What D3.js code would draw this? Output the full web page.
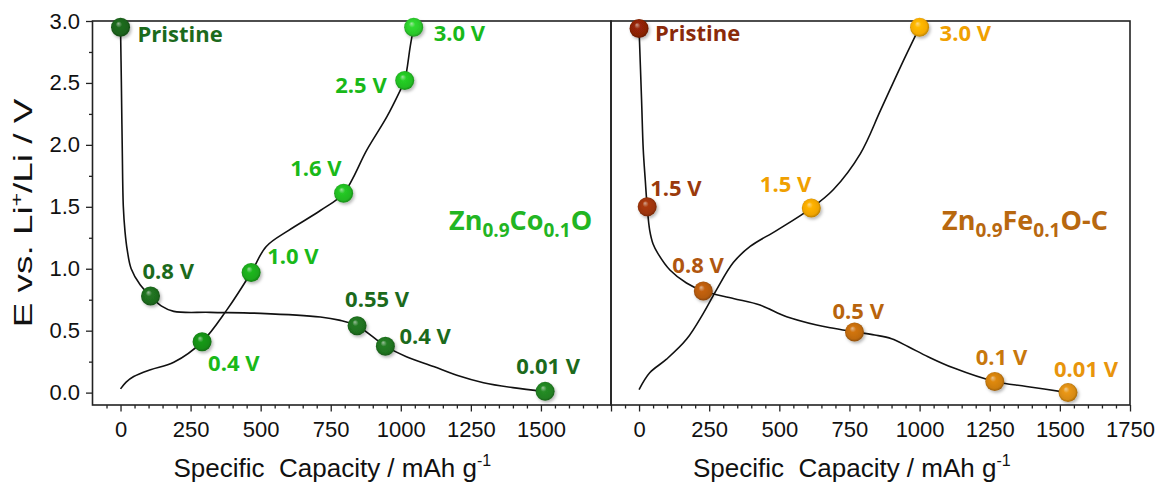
<!DOCTYPE html>
<html>
<head>
<meta charset="utf-8">
<script src="https://cdn.jsdelivr.net/npm/d3@7"></script>
<style>
  html, body { margin: 0; padding: 0; background: #ffffff; }
  svg { display: block; }
</style>
</head>
<body>
<svg id="chart" width="1160" height="486"></svg>
<script>
// ---------------- DATA ----------------
const xMajorTicks = [0, 250, 500, 750, 1000, 1250, 1500, 1750];
const leftXTickLabels = ["0", "250", "500", "750", "1000", "1250", "1500", ""];
const rightXTickLabels = ["0", "250", "500", "750", "1000", "1250", "1500", "1750"];
const yMajorTicks = [0.0, 0.5, 1.0, 1.5, 2.0, 2.5, 3.0];
const yTickLabels = ["0.0", "0.5", "1.0", "1.5", "2.0", "2.5", "3.0"];

// Zn0.9Co0.1O – discharge curve (capacity, voltage)
const coDischargeCurve = [
  [0, 2.95], [3, 2.5], [6, 2.0], [10, 1.5], [16, 1.3], [24, 1.15], [38, 1.0],
  [70, 0.87], [107, 0.78], [145, 0.70], [190, 0.656], [320, 0.648], [500, 0.64],
  [713, 0.61], [780, 0.585], [844, 0.54], [945, 0.375], [1020, 0.29], [1117, 0.21],
  [1200, 0.14], [1295, 0.08], [1400, 0.04], [1515, 0.01]
];
// Zn0.9Co0.1O – charge curve
const coChargeCurve = [
  [0, 0.03], [20, 0.085], [47, 0.13], [107, 0.185], [190, 0.245], [291, 0.41],
  [380, 0.67], [466, 0.97], [520, 1.18], [600, 1.31], [713, 1.47], [796, 1.61],
  [879, 1.96], [951, 2.23], [998, 2.44], [1014, 2.52], [1034, 2.80], [1046, 2.95]
];
// Zn0.9Co0.1O – marked states
const coDischargeCap = [0, 107, 844, 945, 1515];
const coDischargeV = [2.95, 0.78, 0.54, 0.375, 0.01];
const coDischargeLabels = ["Pristine", "0.8 V", "0.55 V", "0.4 V", "0.01 V"];
const coChargeCap = [291, 466, 796, 1014, 1046];
const coChargeV = [0.41, 0.97, 1.61, 2.52, 2.95];
const coChargeLabels = ["0.4 V", "1.0 V", "1.6 V", "2.5 V", "3.0 V"];

// Zn0.9Fe0.1O-C – discharge curve
const feDischargeCurve = [
  [0, 2.94], [9, 2.36], [15, 1.96], [22, 1.72], [29, 1.50], [38, 1.31], [50, 1.20],
  [68, 1.12], [110, 0.99], [169, 0.885], [229, 0.82], [336, 0.76], [431, 0.707],
  [526, 0.613], [633, 0.546], [693, 0.519], [768, 0.49], [840, 0.465], [900, 0.435],
  [960, 0.37], [1030, 0.29], [1120, 0.2], [1268, 0.09], [1381, 0.05], [1529, 0.0]
];
// Zn0.9Fe0.1O-C – charge curve
const feChargeCurve = [
  [0, 0.024], [38, 0.16], [98, 0.27], [169, 0.43], [229, 0.64], [276, 0.83],
  [336, 1.05], [396, 1.18], [491, 1.31], [614, 1.49], [693, 1.64], [789, 1.93],
  [861, 2.28], [932, 2.63], [1000, 2.95]
];
// Zn0.9Fe0.1O-C – marked states
const feDischargeCap = [0, 29, 229, 768, 1268, 1529];
const feDischargeV = [2.94, 1.50, 0.82, 0.49, 0.09, 0.0];
const feDischargeLabels = ["Pristine", "1.5 V", "0.8 V", "0.5 V", "0.1 V", "0.01 V"];
const feChargeCap = [614, 1000];
const feChargeV = [1.49, 2.95];
const feChargeLabels = ["1.5 V", "3.0 V"];

// ---------------- STYLE / LAYOUT ----------------
const coDischargeColors = ["#1b621b", "#1e6b1e", "#1f701f", "#1f721f", "#228022"];
const coDischargeText = "#1c6a1c";
const coChargeColors = ["#168c16", "#1ba71b", "#22b822", "#22bd22", "#2bc72b"];
const coChargeText = "#19b919";
const feDischargeColors = ["#8a2206", "#9c3408", "#b45a10", "#bf6a10", "#cc7d10", "#d68a12"];
const feDischargeText = ["#8a2a0a", "#9a3a0c", "#b0560f", "#b8640c", "#c8780c", "#e8950c"];
const feChargeColors = ["#f0a400", "#f5aa00"];
const feChargeText = "#f0a000";

// label offsets relative to the marker centre: [dx, dy, anchor]
const coDischargeOff = [[17, 15, "start"], [-8, -17, "start"], [-12, -19, "start"], [14, -2, "start"], [-29, -17, "start"]];
const coChargeOff = [[6, 29, "start"], [16, -8, "start"], [-2, -17, "end"], [-18, 13, "end"], [20, 14, "start"]];
const feDischargeOff = [[16, 13, "start"], [3, -11, "start"], [-31, -18, "start"], [-22, -13, "start"], [-19, -16, "start"], [-14, -16, "start"]];
const feChargeOff = [[0, -16, "end"], [20, 14, "start"]];

const plotTop = 21, plotBottom = 405;
const leftX0 = 92.5, divX = 611, rightX1 = 1130;
const tickFont = "'Liberation Sans', Arial, sans-serif";
const labelFont = "'Open Sans', 'Noto Sans', sans-serif";

const svg = d3.select("#chart");
const defs = svg.append("defs");

const flt = defs.append("filter").attr("id", "shadow")
  .attr("x", "-50%").attr("y", "-50%").attr("width", "200%").attr("height", "200%");
flt.append("feDropShadow").attr("dx", 1.5).attr("dy", 2).attr("stdDeviation", 1.6)
  .attr("flood-color", "#000").attr("flood-opacity", 0.28);

let gradCount = 0;
function sphereGradient(color) {
  const id = "g" + (gradCount++);
  const c = d3.color(color);
  const g = defs.append("radialGradient").attr("id", id)
    .attr("cx", "50%").attr("cy", "50%").attr("r", "55%")
    .attr("fx", "38%").attr("fy", "30%");
  g.append("stop").attr("offset", "0%").attr("stop-color", d3.interpolateRgb(color, "#ffffff")(0.55));
  g.append("stop").attr("offset", "30%").attr("stop-color", c.brighter(0.25).formatHex());
  g.append("stop").attr("offset", "75%").attr("stop-color", color);
  g.append("stop").attr("offset", "100%").attr("stop-color", c.darker(1.1).formatHex());
  return "url(#" + id + ")";
}

const y = d3.scaleLinear().domain([-0.1, 3.0]).range([plotBottom, plotTop]);
const xL = d3.scaleLinear().domain([-100, 1750]).range([leftX0, divX]);
const xR = d3.scaleLinear().domain([-100, 1750]).range([divX, rightX1]);

const minorX = d3.range(-50, 1751, 50).filter(v => v % 250 !== 0);
const minorY = d3.range(0, 3.01, 0.25).filter(v => Math.abs(v * 2 - Math.round(v * 2)) > 1e-6);

function xAxes(x, labels) {
  const gMin = svg.append("g").attr("transform", `translate(0,${plotBottom})`)
    .call(d3.axisBottom(x).tickValues(minorX).tickSize(3.5).tickSizeOuter(0).tickFormat(""));
  const gMaj = svg.append("g").attr("transform", `translate(0,${plotBottom})`)
    .call(d3.axisBottom(x).tickValues(xMajorTicks).tickSize(6.5).tickSizeOuter(0).tickPadding(10)
      .tickFormat((d, i) => labels[i]));
  [gMin, gMaj].forEach(g => {
    g.select(".domain").remove();
    g.selectAll("line").attr("stroke", "#222").attr("stroke-width", 1.3);
    g.selectAll("text").attr("font-family", tickFont).attr("font-size", 22).attr("fill", "#111");
  });
}
xAxes(xL, leftXTickLabels);
xAxes(xR, rightXTickLabels);

{
  const gMin = svg.append("g").attr("transform", `translate(${leftX0},0)`)
    .call(d3.axisLeft(y).tickValues(minorY).tickSize(3.5).tickSizeOuter(0).tickFormat(""));
  const gMaj = svg.append("g").attr("transform", `translate(${leftX0},0)`)
    .call(d3.axisLeft(y).tickValues(yMajorTicks).tickSize(6.5).tickSizeOuter(0).tickPadding(6)
      .tickFormat((d, i) => yTickLabels[i]));
  [gMin, gMaj].forEach(g => {
    g.select(".domain").remove();
    g.selectAll("line").attr("stroke", "#222").attr("stroke-width", 1.3);
    g.selectAll("text").attr("font-family", tickFont).attr("font-size", 22).attr("fill", "#111");
  });
}

// frames
svg.append("rect").attr("x", leftX0).attr("y", plotTop).attr("width", divX - leftX0).attr("height", plotBottom - plotTop)
  .attr("fill", "none").attr("stroke", "#222").attr("stroke-width", 1.6);
svg.append("rect").attr("x", divX).attr("y", plotTop).attr("width", rightX1 - divX).attr("height", plotBottom - plotTop)
  .attr("fill", "none").attr("stroke", "#222").attr("stroke-width", 1.6);

// curves
function curve(x, data) {
  const line = d3.line().x(d => x(d[0])).y(d => y(d[1])).curve(d3.curveCatmullRom.alpha(0.5));
  svg.append("path").attr("d", line(data)).attr("fill", "none")
    .attr("stroke", "#111").attr("stroke-width", 1.6);
}
curve(xL, coDischargeCurve);
curve(xL, coChargeCurve);
curve(xR, feDischargeCurve);
curve(xR, feChargeCurve);

// markers + labels
function states(x, caps, volts, labels, colors, textColors, offs) {
  const g = svg.append("g");
  caps.forEach((c, i) => {
    const col = Array.isArray(colors) ? colors[i] : colors;
    g.append("circle").attr("cx", x(c)).attr("cy", y(volts[i])).attr("r", 9.5)
      .attr("fill", sphereGradient(col)).attr("filter", "url(#shadow)");
  });
  caps.forEach((c, i) => {
    const tc = Array.isArray(textColors) ? textColors[i] : textColors;
    const o = offs[i];
    g.append("text").attr("x", x(c) + o[0]).attr("y", y(volts[i]) + o[1])
      .attr("text-anchor", o[2]).attr("font-family", labelFont).attr("font-weight", 700)
      .attr("font-size", 22).attr("fill", tc).text(labels[i]);
  });
}
states(xL, coDischargeCap, coDischargeV, coDischargeLabels, coDischargeColors, coDischargeText, coDischargeOff);
states(xL, coChargeCap, coChargeV, coChargeLabels, coChargeColors, coChargeText, coChargeOff);
states(xR, feDischargeCap, feDischargeV, feDischargeLabels, feDischargeColors, feDischargeText, feDischargeOff);
states(xR, feChargeCap, feChargeV, feChargeLabels, feChargeColors, feChargeText, feChargeOff);

// material names with subscripts
function formula(x0, y0, parts, color) {
  const t = svg.append("text").attr("x", x0).attr("y", y0).attr("font-family", labelFont)
    .attr("font-weight", 700).attr("font-size", 27).attr("fill", color);
  parts.forEach(p => {
    if (p.sub) {
      t.append("tspan").attr("dy", 7).attr("font-size", 19).text(p.t);
    } else {
      t.append("tspan").attr("dy", p.after ? -7 : 0).text(p.t);
    }
  });
}
formula(449, 230, [{t: "Zn"}, {t: "0.9", sub: true}, {t: "Co", after: true}, {t: "0.1", sub: true}, {t: "O", after: true}], "#22b522");
formula(942, 230, [{t: "Zn"}, {t: "0.9", sub: true}, {t: "Fe", after: true}, {t: "0.1", sub: true}, {t: "O-C", after: true}], "#b8680f");

// axis titles
function xTitle(x0) {
  const t = svg.append("text").attr("x", x0).attr("y", 477).attr("font-family", tickFont)
    .attr("font-size", 26).attr("fill", "#111");
  t.append("tspan").text("Specific\u00A0\u00A0Capacity / mAh g");
  t.append("tspan").attr("dy", -11).attr("font-size", 16).text("-1");
}
xTitle(leftX0 + 81);
xTitle(divX + 82);

{
  const t = svg.append("text")
    .attr("transform", `translate(32,${(plotTop + plotBottom) / 2}) rotate(-90) scale(1.42,1)`)
    .attr("text-anchor", "middle").attr("font-family", tickFont).attr("font-size", 26).attr("fill", "#111");
  t.append("tspan").text("E vs. Li");
  t.append("tspan").attr("dy", -10).attr("font-size", 16).text("+");
  t.append("tspan").attr("dy", 10).text("/Li / V");
}
</script>
</body>
</html>
